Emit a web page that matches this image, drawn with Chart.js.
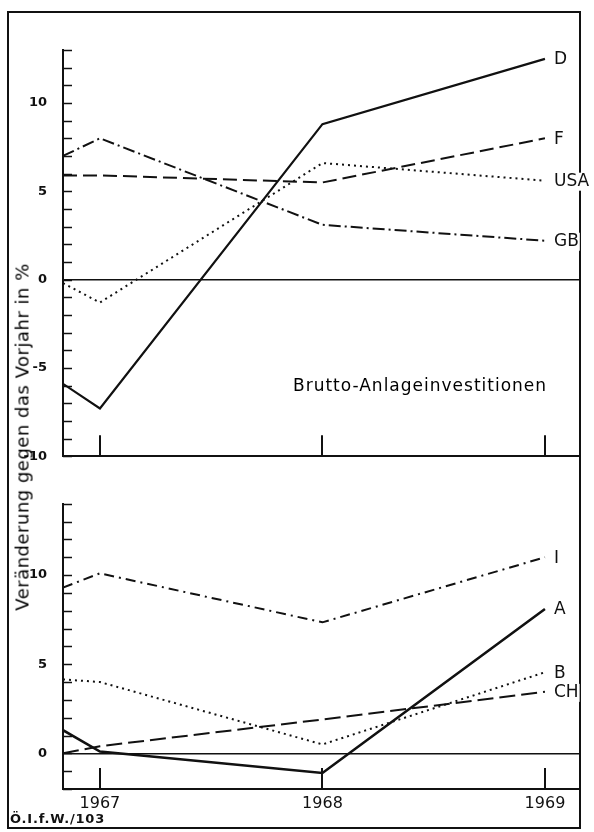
<!DOCTYPE html>
<html>
<head>
<meta charset="utf-8">
<script src="https://cdn.jsdelivr.net/npm/chart.js@4.4.0/dist/chart.umd.min.js"></script>
<style>
  html, body { margin: 0; padding: 0; background: #fff; }
  #page { position: relative; width: 594px; height: 832px; background: #fff; overflow: hidden; font-family: "DejaVu Sans", sans-serif; color: #111; }
  #frame { position: absolute; left: 7px; top: 11px; width: 574px; height: 818px; box-sizing: border-box; border: 2px solid #111; }
  #topWrap { position: absolute; left: 0; top: 0; width: 594px; height: 480px; }
  #botWrap { position: absolute; left: 0; top: 480px; width: 594px; height: 340px; }
  #ytitle { position: absolute; left: 22px; top: 437px; transform: translate(-50%, -50%) rotate(-90deg); white-space: nowrap; font-size: 18px; letter-spacing: 0.5px; color: #000; }
  #panelTitle { position: absolute; left: 293px; top: 375px; font-size: 17px; letter-spacing: 1px; white-space: nowrap; color: #000; }
  #source { position: absolute; left: 10px; top: 811px; font-size: 13px; font-weight: bold; letter-spacing: 0.8px; white-space: nowrap; }
</style>
</head>
<body>
<div id="page">
  <div id="frame"></div>
  <div id="topWrap"><canvas id="topChart"></canvas></div>
  <div id="botWrap"><canvas id="botChart"></canvas></div>
  <div id="ytitle">Veränderung gegen das Vorjahr in %</div>
  <div id="panelTitle">Brutto-Anlageinvestitionen</div>
  <div id="source">Ö.I.f.W./103</div>
</div>
<script>
// x-Achse: linker Achsenrand, dann die Jahre
const xMin = 1966.834;
const xMax = 1969.153;
const years = [1967, 1968, 1969];
const xPoints = [xMin, 1967, 1968, 1969];

// oberes Feld (Wert am linken Rand, 1967, 1968, 1969)
const topD   = [-5.9, -7.3, 8.8, 12.5];
const topF   = [5.9, 5.9, 5.5, 8.0];
const topUSA = [-0.2, -1.3, 6.6, 5.6];
const topGB  = [7.0, 8.0, 3.1, 2.2];

// unteres Feld
const botI  = [9.3, 10.1, 7.35, 11.0];
const botA  = [1.3, 0.1, -1.1, 8.1];
const botB  = [4.15, 4.0, 0.5, 4.55];
const botCH = [0.0, 0.4, 1.9, 3.45];

const topRange = [-10, 13];
const botRange = [-2, 14];
const labeledTicks = [-10, -5, 0, 5, 10];

// eine Linie bauen
function series(label, values, dash, width) {
    return {
        label: label,
        data: values.map((v, i) => ({ x: xPoints[i], y: v })),
        borderColor: '#111',
        borderWidth: width || 2,
        borderDash: dash,
        borderCapStyle: 'butt',
        pointRadius: 0,
        tension: 0,
        fill: false
    };
}

// Striche nach innen, Jahresmarken, Namen am Linienende
const decorPlugin = {
    id: 'decor',
    afterDatasetsDraw(chart) {
        const { ctx, chartArea, scales } = chart;
        const x = scales.x, y = scales.y;
        ctx.save();
        ctx.strokeStyle = '#111';
        ctx.lineWidth = 1.5;
        y.ticks.forEach(t => {
            const py = Math.round(y.getPixelForValue(t.value)) + 0.5;
            ctx.beginPath();
            ctx.moveTo(chartArea.left, py);
            ctx.lineTo(chartArea.left + 9, py);
            ctx.stroke();
        });
        ctx.lineWidth = 2;
        years.forEach(v => {
            const px = Math.round(x.getPixelForValue(v));
            ctx.beginPath();
            ctx.moveTo(px, chartArea.bottom);
            ctx.lineTo(px, chartArea.bottom - 21);
            ctx.stroke();
        });
        ctx.font = '17px "DejaVu Sans"';
        ctx.textBaseline = 'middle';
        chart.data.datasets.forEach((ds, i) => {
            const pts = chart.getDatasetMeta(i).data;
            const last = pts[pts.length - 1];
            const lx = last.x + 9, ly = last.y + 1;
            const w = ctx.measureText(ds.label).width;
            ctx.fillStyle = '#fff';
            ctx.fillRect(lx - 1, ly - 9, w + 2, 18);
            ctx.fillStyle = '#111';
            ctx.fillText(ds.label, lx, ly);
        });
        ctx.restore();
    }
};

function makeChart(id, datasets, range, padding, showYears) {
    return new Chart(document.getElementById(id), {
        type: 'line',
        data: { datasets: datasets },
        options: {
            responsive: true,
            maintainAspectRatio: false,
            animation: false,
            layout: { padding: padding },
            plugins: { legend: { display: false }, tooltip: { enabled: false } },
            scales: {
                x: {
                    type: 'linear',
                    min: xMin,
                    max: xMax,
                    grid: { display: false },
                    border: { display: true, color: '#111', width: 2 },
                    ticks: {
                        display: showYears,
                        autoSkip: false,
                        padding: -3,
                        color: '#111',
                        font: { family: 'DejaVu Sans', size: 16 },
                        callback: v => String(v)
                    },
                    afterBuildTicks: s => { s.ticks = years.map(v => ({ value: v })); },
                    afterFit: s => { s.height = showYears ? 31 : 0; }
                },
                y: {
                    min: range[0],
                    max: range[1],
                    grid: {
                        color: c => (c.tick && c.tick.value === 0) ? '#111' : 'rgba(0,0,0,0)',
                        lineWidth: 1.5,
                        drawTicks: false
                    },
                    border: { display: true, color: '#111', width: 2 },
                    ticks: {
                        stepSize: 1,
                        autoSkip: false,
                        padding: 16,
                        color: '#111',
                        font: { family: 'DejaVu Sans', size: 13, weight: 'bold' },
                        callback: v => labeledTicks.includes(v) ? String(v) : ''
                    },
                    afterFit: s => { s.width = 63; }
                }
            }
        },
        plugins: [decorPlugin]
    });
}

makeChart('topChart', [
    series('D', topD, [], 2.2),
    series('F', topF, [14, 6], 2),
    series('USA', topUSA, [2, 4], 2),
    series('GB', topGB, [12, 4, 2, 4], 2)
], topRange, { top: 50, right: 15, bottom: 5, left: 0 }, false);

makeChart('botChart', [
    series('I', botI, [10, 5, 2, 5], 2),
    series('A', botA, [], 2.6),
    series('B', botB, [2, 4], 2),
    series('CH', botCH, [16, 6], 2)
], botRange, { top: 13, right: 15, bottom: 0, left: 0 }, true);
</script>
</body>
</html>
